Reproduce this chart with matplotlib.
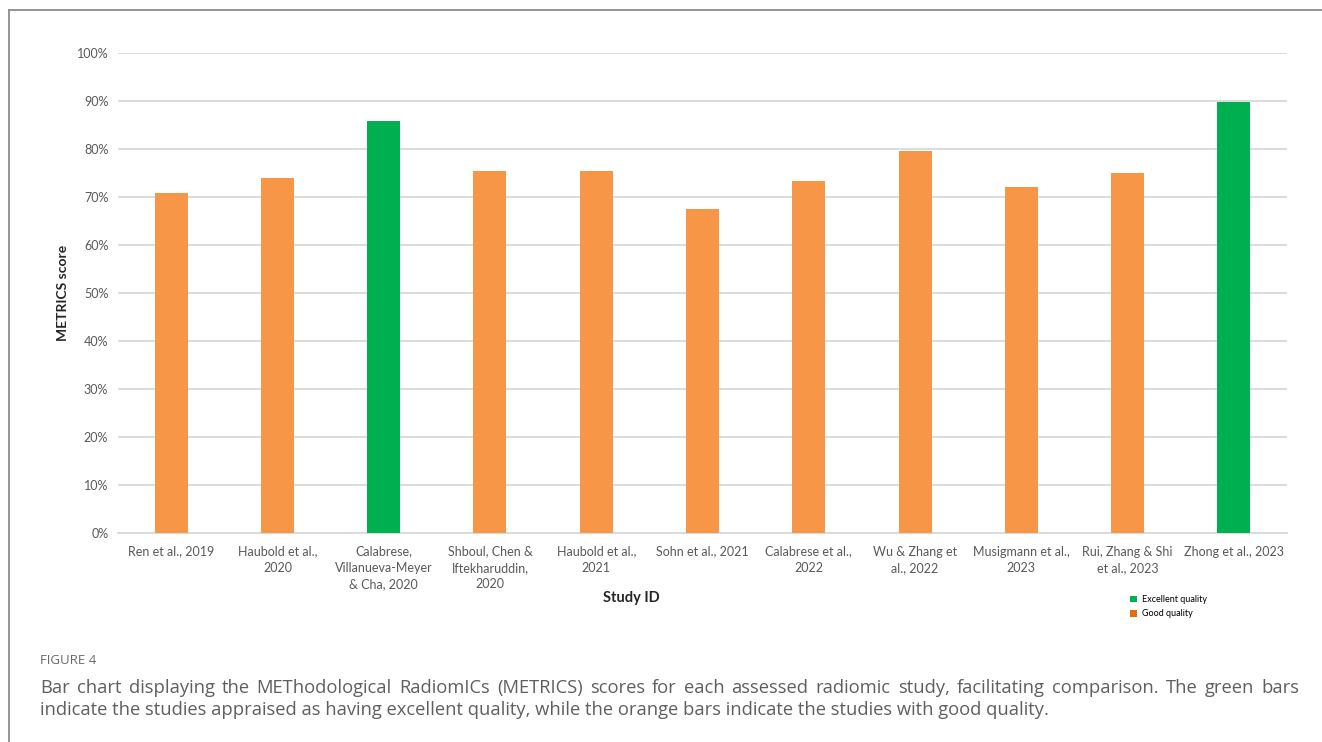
import matplotlib
matplotlib.use("Agg")
import matplotlib.pyplot as plt
from matplotlib.patches import Patch
from matplotlib.lines import Line2D
from matplotlib.ticker import PercentFormatter

# ---- data -------------------------------------------------------------
studies = [
    "Ren et al., 2019",
    "Haubold et al.,\n2020",
    "Calabrese,\nVillanueva-Meyer\n& Cha, 2020",
    "Shboul, Chen &\nIftekharuddin,\n2020",
    "Haubold et al.,\n2021",
    "Sohn et al., 2021",
    "Calabrese et al.,\n2022",
    "Wu & Zhang et\nal., 2022",
    "Musigmann et al.,\n2023",
    "Rui, Zhang & Shi\net al., 2023",
    "Zhong et al., 2023",
]
scores = [70.8, 73.9, 85.8, 75.5, 75.5, 67.4, 73.4, 79.5, 72.0, 75.0, 89.7]
quality = ["Good", "Good", "Excellent", "Good", "Good", "Good",
           "Good", "Good", "Good", "Good", "Excellent"]
y_ticks = [0, 10, 20, 30, 40, 50, 60, 70, 80, 90, 100]

caption_title = "FIGURE 4"
caption_line1 = ("Bar chart displaying the METhodological RadiomICs (METRICS) scores for each "
                 "assessed radiomic study, facilitating comparison. The green bars")
caption_line2 = ("indicate the studies appraised as having excellent quality, while the orange "
                 "bars indicate the studies with good quality.")

# ---- styling ----------------------------------------------------------
W, H = 1322, 742
GREEN = "#00B050"
ORANGE = "#F79646"
LEGEND_ORANGE = "#E46C0A"
GRID = "#D9D9D9"
TICK_COL = "#595959"
CAP_COL = "#5F5F5F"
colors = {"Excellent": GREEN, "Good": ORANGE}

plt.rcParams["font.family"] = ["Lato", "DejaVu Sans"]

fig = plt.figure(figsize=(W / 100, H / 100), dpi=100)
fig.patch.set_facecolor("white")

def px(x, y):
    """Pixel position (from top-left) to figure fraction."""
    return x / W, 1 - y / H

# page frame: top and left rules
fig.add_artist(Line2D([9 / W, 1.0], [1 - 10 / H, 1 - 10 / H], color="#8C8C8C", lw=1.3,
                      transform=fig.transFigure))
fig.add_artist(Line2D([9 / W, 9 / W], [0.0, 1 - 10 / H], color="#8C8C8C", lw=1.3,
                      transform=fig.transFigure))

# ---- chart ------------------------------------------------------------
left, right, top, bottom = 118, 1287, 53, 533
ax = fig.add_axes([left / W, 1 - bottom / H, (right - left) / W, (bottom - top) / H])
x = list(range(len(studies)))
ax.bar(x, scores, width=0.31, color=[colors[q] for q in quality], zorder=3)

ax.set_xlim(-0.5, len(studies) - 0.5)
ax.set_ylim(0, 100)
ax.set_yticks(y_ticks)
ax.yaxis.set_major_formatter(PercentFormatter(decimals=0))
ax.grid(axis="y", color=GRID, lw=1.3, zorder=0)
for s in ["top", "right", "left"]:
    ax.spines[s].set_visible(False)
ax.spines["bottom"].set_color(GRID)
ax.spines["bottom"].set_linewidth(1.3)
ax.tick_params(axis="both", length=0, colors=TICK_COL, labelsize=9)
ax.tick_params(axis="y", pad=7)
ax.tick_params(axis="x", pad=9)
ax.set_xticks(x)
ax.set_xticklabels(studies, linespacing=1.45)

fig.text(*px(63, 293), "METRICS score", rotation=90, ha="center", va="center",
         fontsize=10, fontweight="bold", color="#262626")
fig.text(*px(631, 598), "Study ID", ha="center", va="center",
         fontsize=10.5, fontweight="bold", color="#262626")

handles = [Patch(facecolor=GREEN, label="Excellent quality"),
           Patch(facecolor=LEGEND_ORANGE, label="Good quality")]
fig.legend(handles=handles, loc="upper left", bbox_to_anchor=px(1130, 595),
           frameon=False, fontsize=6.5, handlelength=0.75, handleheight=0.75,
           handletextpad=0.6, labelspacing=0.6, borderaxespad=0, borderpad=0)

# ---- caption ----------------------------------------------------------
fig.text(*px(40, 660), caption_title, ha="left", va="center", fontsize=9.5,
         color="#6A6A6A", family=["Open Sans", "DejaVu Sans"])

cap_font = dict(fontsize=13.2, color=CAP_COL, family=["Open Sans", "DejaVu Sans"],
                va="center", ha="left")

# first line is justified between the caption margins
fig.canvas.draw()
renderer = fig.canvas.get_renderer()
words = caption_line1.split(" ")
x0, x1 = 40, 1299
objs = [fig.text(0, 1 - 688 / H, w, **cap_font) for w in words]
widths = [o.get_window_extent(renderer).width for o in objs]
gap = (x1 - x0 - sum(widths)) / (len(words) - 1)
cur = x0
for o, w in zip(objs, widths):
    o.set_x(cur / W)
    cur += w + gap

fig.text(*px(40, 710), caption_line2, **cap_font)

fig.savefig("out.png", dpi=100, facecolor="white")
